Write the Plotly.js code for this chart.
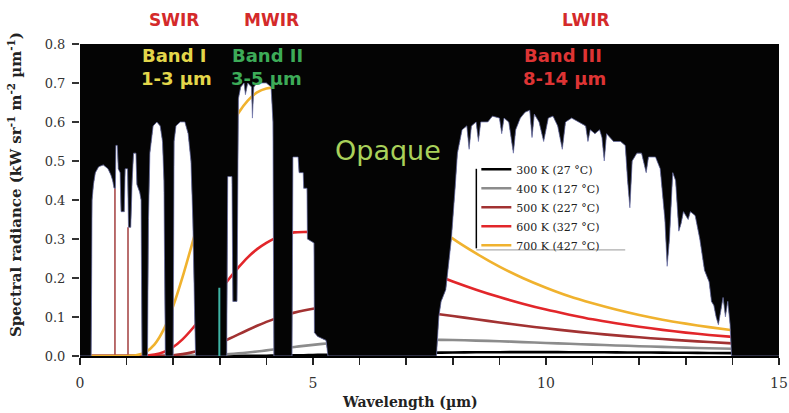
<!DOCTYPE html>
<html>
<head>
<meta charset="utf-8">
<script src="https://cdn.plot.ly/plotly-3.0.1.min.js"></script>
<style>html,body{margin:0;padding:0;background:#fff;}#chart{width:789px;height:413px;}</style>
</head>
<body>
<div id="chart"></div>
<script>
// Atmospheric window envelope (white region), wavelength in µm and radiance in kW sr-1 m-2 µm-1
const specX = [0,0.24,0.26,0.29,0.33,0.40,0.50,0.60,0.66,0.70,0.73,0.76,0.77,0.80,0.82,0.86,0.88,0.95,0.97,1.02,1.04,1.09,1.12,1.15,1.20,1.22,1.28,1.31,1.33,1.45,1.47,1.50,1.57,1.65,1.72,1.77,1.80,1.83,2.00,2.02,2.06,2.15,2.25,2.32,2.38,2.42,2.46,2.48,3.15,3.17,3.26,3.28,3.37,3.40,3.45,3.52,3.55,3.60,3.68,3.70,3.73,3.80,4.00,4.10,4.14,4.16,4.55,4.57,4.68,4.70,4.79,4.80,4.87,4.88,5.02,5.03,5.10,5.28,5.32,7.65,7.70,7.75,7.85,7.90,7.97,8.05,8.10,8.15,8.20,8.30,8.35,8.40,8.50,8.55,8.60,8.75,8.85,9.00,9.05,9.10,9.20,9.30,9.35,9.45,9.55,9.65,9.70,9.75,9.85,9.95,10.05,10.15,10.25,10.35,10.42,10.55,10.70,10.85,10.90,10.95,11.05,11.15,11.20,11.25,11.30,11.45,11.60,11.70,11.75,11.80,11.85,11.95,12.05,12.15,12.20,12.35,12.45,12.55,12.60,12.65,12.72,12.78,12.85,12.90,12.95,13.05,13.10,13.20,13.30,13.40,13.50,13.55,13.60,13.65,13.70,13.75,13.80,13.85,13.90,13.95,13.98,15];
const specY = [0,0,0.40,0.44,0.47,0.485,0.49,0.48,0.465,0.45,0.43,0.43,0.54,0.54,0.48,0.47,0.37,0.37,0.48,0.48,0.33,0.33,0.45,0.52,0.52,0.44,0.42,0.40,0,0,0.35,0.52,0.59,0.60,0.59,0.55,0.45,0,0,0.55,0.59,0.60,0.60,0.57,0.50,0.35,0.10,0,0,0.46,0.46,0.14,0.14,0.66,0.69,0.70,0.67,0.70,0.69,0.61,0.69,0.70,0.70,0.69,0.60,0,0,0.51,0.51,0.47,0.47,0.43,0.43,0.30,0.29,0.06,0.05,0.04,0,0,0.10,0.14,0.17,0.22,0.30,0.43,0.52,0.55,0.58,0.59,0.53,0.59,0.60,0.55,0.60,0.60,0.615,0.61,0.57,0.61,0.60,0.52,0.58,0.61,0.625,0.63,0.56,0.62,0.60,0.55,0.61,0.615,0.59,0.53,0.60,0.61,0.60,0.59,0.55,0.58,0.57,0.58,0.56,0.50,0.57,0.55,0.55,0.54,0.45,0.38,0.50,0.52,0.52,0.47,0.51,0.51,0.48,0.35,0.23,0.30,0.47,0.45,0.32,0.34,0.37,0.35,0.37,0.36,0.30,0.22,0.19,0.14,0.13,0.10,0.08,0.12,0.15,0.10,0.14,0.08,0,0];

// Blackbody curves
const wl = [0,1.0,1.2,1.4,1.6,1.8,2.0,2.2,2.4,2.6,2.8,3.0,3.2,3.4,3.6,3.8,4.0,4.2,4.4,4.6,4.8,5.0,5.2,5.4,5.6,6.0,7.0,7.5,8.0,8.5,9.0,9.5,10.0,10.5,11.0,11.5,12.0,12.5,13.0,13.5,14.0];
const r300 = [0,0,0,0,0,0,0,0,0,0,0,0.0001,0.0001,0.0002,0.0003,0.0005,0.0007,0.0010,0.0013,0.0017,0.0021,0.0026,0.0031,0.0036,0.0041,0.0052,0.0075,0.0084,0.0091,0.0096,0.0098,0.0099,0.0099,0.0098,0.0096,0.0093,0.0090,0.0086,0.0082,0.0078,0.0074];
const r400 = [0,0,0,0,0,0,0.0001,0.0002,0.0005,0.0010,0.0018,0.0030,0.0047,0.0067,0.0090,0.0116,0.0145,0.0174,0.0204,0.0232,0.0260,0.0286,0.0310,0.0332,0.0352,0.0383,0.0418,0.0418,0.0410,0.0395,0.0378,0.0357,0.0335,0.0314,0.0292,0.0271,0.0251,0.0233,0.0215,0.0199,0.0184];
const r500 = [0,0,0,0,0.0002,0.0007,0.0021,0.0048,0.0093,0.0156,0.0238,0.0335,0.0442,0.0553,0.0666,0.0774,0.0874,0.0965,0.1045,0.1112,0.1167,0.1211,0.1242,0.1264,0.1276,0.1277,0.1181,0.1106,0.1024,0.0942,0.0860,0.0782,0.0710,0.0644,0.0583,0.0528,0.0479,0.0434,0.0394,0.0358,0.0325];
const r600 = [0,0,0.0001,0.0008,0.0035,0.0103,0.0231,0.0427,0.0685,0.0989,0.132,0.166,0.198,0.227,0.253,0.274,0.290,0.303,0.312,0.317,0.318,0.318,0.314,0.309,0.303,0.287,0.238,0.214,0.191,0.170,0.151,0.134,0.119,0.106,0.094,0.084,0.075,0.067,0.060,0.054,0.049];
const r700 = [0,0.0001,0.0017,0.0093,0.030,0.069,0.128,0.202,0.285,0.370,0.449,0.519,0.578,0.623,0.655,0.676,0.686,0.688,0.683,0.671,0.655,0.635,0.613,0.590,0.566,0.515,0.397,0.346,0.301,0.263,0.229,0.200,0.175,0.153,0.135,0.119,0.105,0.093,0.083,0.074,0.066];
const seriesNames = ["300 K (27 °C)","400 K (127 °C)","500 K (227 °C)","600 K (327 °C)","700 K (427 °C)"];
const seriesColors = ["#000000","#8c8c8c","#a23232","#e2262a","#f0b22e"];

// Thin marker lines
const brownX = [0.75, 1.03];
const brownTop = [0.43, 0.33];
const tealX = [2.99];
const tealTop = [0.175];

// Top of the plot (for the opaque black fill)
const topX = [0, 15];
const topY = [0.8, 0.8];

const traces = [];
traces.push({x: specX, y: specY, type:'scatter', mode:'lines', fill:'tozeroy', fillcolor:'#ffffff', line:{color:'#ffffff', width:0}, showlegend:false, hoverinfo:'skip'});
brownX.forEach((bx,i)=>{
  traces.push({x:[bx,bx], y:[0,brownTop[i]], type:'scatter', mode:'lines', line:{color:'#a84a4a', width:1.6}, showlegend:false, hoverinfo:'skip'});
});
const rs = [r300, r400, r500, r600, r700];
rs.forEach((r,i)=>{
  traces.push({x: wl, y: r, type:'scatter', mode:'lines', name: seriesNames[i], line:{color: seriesColors[i], width:2.6, shape:'spline', smoothing:0.6}, hoverinfo:'skip'});
});
traces.push({x: specX, y: specY, type:'scatter', mode:'lines', line:{color:'rgba(120,126,180,0.75)', width:1}, showlegend:false, hoverinfo:'skip'});
traces.push({x: topX, y: topY, type:'scatter', mode:'lines', fill:'tonexty', fillcolor:'#040404', line:{color:'#040404', width:0}, showlegend:false, hoverinfo:'skip'});
tealX.forEach((tx,i)=>{
  traces.push({x:[tx,tx], y:[0,tealTop[i]], type:'scatter', mode:'lines', line:{color:'#3fb3a4', width:2}, showlegend:false, hoverinfo:'skip'});
});

const labelFont = (c,s)=>({family:'DejaVu Sans', size:s, color:c, weight:'bold'});
const ann = [
  {text:'<b>SWIR</b>', x:2.02, y:1.077, font:labelFont('#d42a2a',17)},
  {text:'<b>MWIR</b>', x:4.10, y:1.077, font:labelFont('#d42a2a',17)},
  {text:'<b>LWIR</b>', x:10.86, y:1.077, font:labelFont('#d42a2a',17)},
  {text:'<b>Band I</b>', x:2.02, y:0.962, font:labelFont('#e3d64a',18)},
  {text:'<b>1-3 µm</b>', x:2.08, y:0.891, font:labelFont('#e3d64a',18)},
  {text:'<b>Band II</b>', x:4.03, y:0.962, font:labelFont('#3dab58',18)},
  {text:'<b>3-5 µm</b>', x:4.01, y:0.891, font:labelFont('#3dab58',18)},
  {text:'<b>Band III</b>', x:10.36, y:0.962, font:labelFont('#de3434',18)},
  {text:'<b>8-14 µm</b>', x:10.39, y:0.891, font:labelFont('#de3434',18)},
  {text:'Opaque', x:6.6, y:0.66, font:{family:'DejaVu Sans', size:27, color:'#a9d15a'}}
].map(a=>Object.assign({xref:'x', yref:'paper', showarrow:false, xanchor:'center', yanchor:'middle'}, a));
ann.push({text:'<b>Spectral radiance (kW sr<sup>-1</sup> m<sup>-2</sup> µm<sup>-1</sup>)</b>', xref:'paper', yref:'paper', x:-0.093, y:0.551, textangle:-90, showarrow:false, xanchor:'center', yanchor:'middle', font:{family:'DejaVu Serif', size:15, color:'#222'}});
ann.push({text:'<b>Wavelength (µm)</b>', xref:'paper', yref:'paper', x:0.472, y:-0.147, showarrow:false, xanchor:'center', yanchor:'middle', font:{family:'DejaVu Serif', size:14, color:'#222'}});

const layout = {
  width:789, height:413,
  margin:{l:80, r:10, t:44, b:57},
  paper_bgcolor:'#ffffff',
  plot_bgcolor:'#040404',
  showlegend:true,
  legend:{x:0.567, y:0.645, xanchor:'left', yanchor:'top', traceorder:'normal', bgcolor:'rgba(255,255,255,0)', borderwidth:0, font:{family:'DejaVu Serif', size:11, color:'#222'}, tracegroupgap:0, itemwidth:30},
  xaxis:{range:[0,15], dtick:5, tick0:0, ticks:'outside', ticklen:7, tickwidth:1.5, tickcolor:'#222', showline:true, linecolor:'#000', linewidth:2, showgrid:false, zeroline:false, tickfont:{family:'DejaVu Serif', size:14, color:'#333'}, ticklabelstandoff:6, minor:{dtick:1, ticks:'outside', ticklen:7, tickcolor:'#222', tickwidth:1.5}},
  yaxis:{range:[0,0.8], dtick:0.1, tick0:0, tickformat:'.1f', ticks:'outside', ticklen:7, tickwidth:1.5, tickcolor:'#333', showline:false, showgrid:false, zeroline:false, tickfont:{family:'DejaVu Serif', size:13, color:'#333'}, ticklabelstandoff:4},
  annotations: ann,
  shapes:[
    {type:'line', xref:'paper', yref:'paper', x0:0.567, x1:0.567, y0:0.345, y1:0.60, line:{color:'#000', width:1.5}},
    {type:'line', xref:'paper', yref:'paper', x0:0.567, x1:0.78, y0:0.34, y1:0.34, line:{color:'#999', width:1}}
  ]
};
Plotly.newPlot('chart', traces, layout, {staticPlot:true, displayModeBar:false});
</script>
</body>
</html>
